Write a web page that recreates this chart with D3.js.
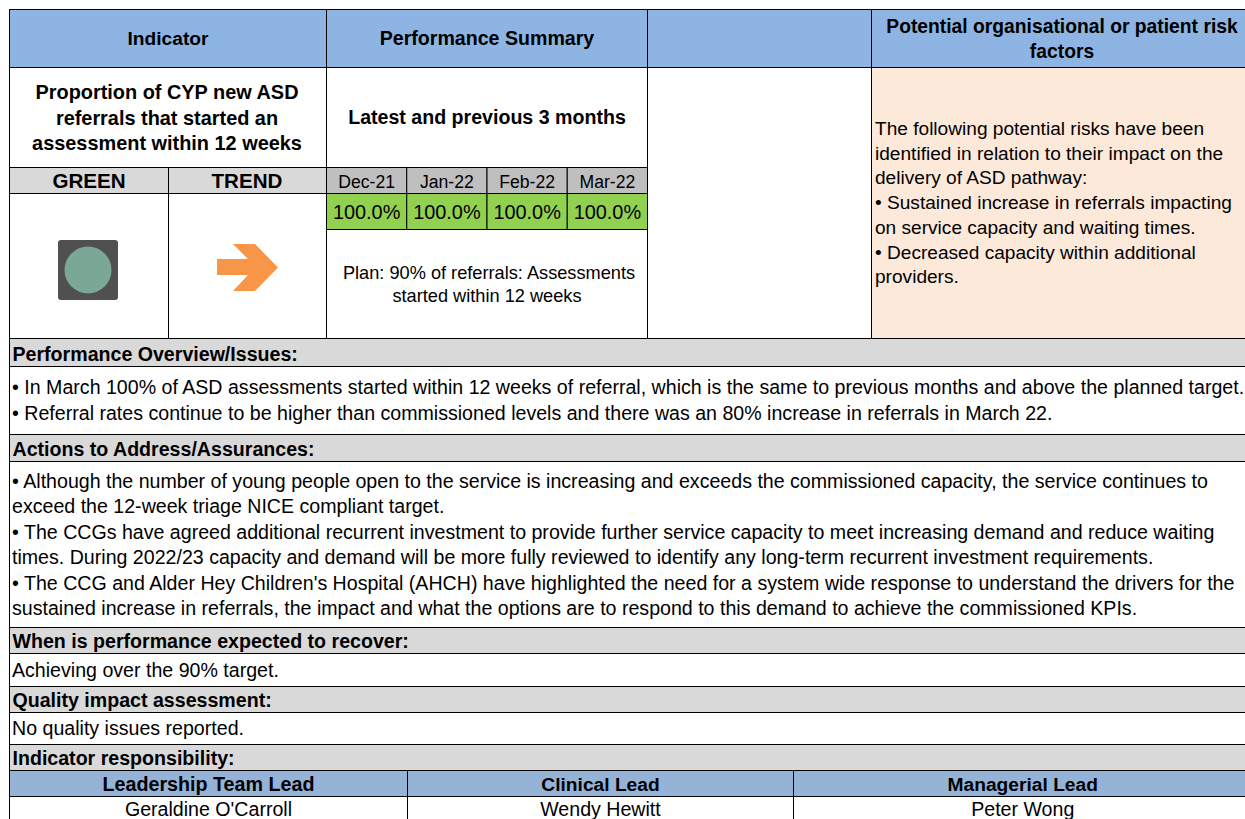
<!DOCTYPE html>
<html>
<head>
<meta charset="utf-8">
<script src="https://cdn.jsdelivr.net/npm/d3@7"></script>
<style>
html,body{margin:0;padding:0;background:#fff;overflow:hidden}
svg{display:block}
text{font-family:"Liberation Sans",Arial,sans-serif;fill:#000}
</style>
</head>
<body>
<svg id="sheet" width="1245" height="819"></svg>
<script>
var months=["Dec-21","Jan-22","Feb-22","Mar-22"];
var monthValues=[100,100,100,100];
var headers=["Indicator","Performance Summary","",""];
var riskHeader=["Potential organisational or patient risk","factors"];
var indicatorName=["Proportion of CYP new ASD","referrals that started an","assessment within 12 weeks"];
var planText=["Plan: 90% of referrals: Assessments","started within 12 weeks"];
var riskText=["The following potential risks have been","identified in relation to their impact on the","delivery of ASD pathway:","• Sustained increase in referrals impacting","on service capacity and waiting times.","• Decreased capacity within additional","providers."];
var overviewText=["• In March 100% of ASD assessments started within 12 weeks of referral, which is the same to previous months and above the planned target.","• Referral rates continue to be higher than commissioned levels and there was an 80% increase in referrals in March 22."];
var actionsText=["• Although the number of young people open to the service is increasing and exceeds the commissioned capacity, the service continues to","exceed the 12-week triage NICE compliant target.","• The CCGs have agreed additional recurrent investment to provide further service capacity to meet increasing demand and reduce waiting","times. During 2022/23 capacity and demand will be more fully reviewed to identify any long-term recurrent investment requirements.","• The CCG and Alder Hey Children's Hospital (AHCH) have highlighted the need for a system wide response to understand the drivers for the","sustained increase in referrals, the impact and what the options are to respond to this demand to achieve the commissioned KPIs."];
var leadHeaders=["Leadership Team Lead","Clinical Lead","Managerial Lead"];
var leadNames=["Geraldine O'Carroll","Wendy Hewitt","Peter Wong"];

var svg=d3.select("#sheet");
var blue="#8db4e2", grey="#d9d9d9", midGrey="#bfbfbf", green="#92d050", peach="#fde9d9", lead="#95b3d7";
var right=1252;

function cell(x0,y0,x1,y1,fill){
	svg.append("rect").attr("x",x0).attr("y",y0).attr("width",x1-x0).attr("height",y1-y0)
	.attr("fill",fill||"#fff").attr("stroke","#000").attr("stroke-width",1);
}
function label(x,y,txt,size,bold,anchor,col){
	return svg.append("text").attr("x",x).attr("y",y).attr("font-size",size)
	.attr("font-weight",bold?"bold":"normal").attr("text-anchor",anchor||"middle")
	.style("fill",col||"#000").text(txt);
}

// top band
var colX=[9.5,326.5,647.5,871.5,right];
headers.forEach(function(h,i){
	cell(colX[i],9.5,colX[i+1],67.5,blue);
	if(h) label((colX[i]+colX[i+1])/2,44.5,h,i==0?19.2:19.6,true);
});
riskHeader.forEach(function(t,i){ label(1062,33+i*25,t,19.3,true); });

// indicator block
cell(9.5,67.5,326.5,167.5);
indicatorName.forEach(function(t,i){ label(167,99+i*25.7,t,19.9,true); });
cell(326.5,67.5,647.5,167.5);
label(487,124,"Latest and previous 3 months",19.6,true);
cell(647.5,67.5,871.5,338.5);
cell(871.5,67.5,right,338.5,peach);
riskText.forEach(function(t,i){ label(875,135+i*24.7,t,19.1,false,"start"); });

// rag and trend
cell(9.5,167.5,168.5,193.5,grey);
cell(168.5,167.5,326.5,193.5,grey);
label(89,188,"GREEN",20.6,true);
label(247,188,"TREND",20.6,true);
cell(9.5,193.5,168.5,338.5);
cell(168.5,193.5,326.5,338.5);
svg.append("rect").attr("x",58).attr("y",240).attr("width",60).attr("height",60).attr("rx",3).attr("fill","#505050");
svg.append("circle").attr("cx",88).attr("cy",270).attr("r",23.5).attr("fill","#7ba797");
svg.append("path").attr("d","M217 259H248L233 244H255L278 267.5L255 291H233L248 275H217Z").attr("fill","#f79646");

// months, positioned through a band scale
var xMonth=d3.scaleBand().domain(months).range([326.5,647.5]);
months.forEach(function(m,i){
	var x0=xMonth(m), x1=x0+xMonth.bandwidth();
	cell(x0,167.5,x1,193.5,midGrey);
	label((x0+x1)/2,188,m,17.6);
	cell(x0,193.5,x1,229.5,green);
	label((x0+x1)/2,219,monthValues[i].toFixed(1)+"%",19.9);
});
cell(326.5,229.5,647.5,338.5);
planText.forEach(function(t,i){ label(489-i*2,279+i*23,t,18.2); });

// lower rows
function band(y0,y1,txt){
	cell(9.5,y0,right,y1,grey);
	label(12.5,y1-6,txt,19.6,true,"start");
}
function body(y0,y1,lines,first,step){
	cell(9.5,y0,right,y1);
	lines.forEach(function(t,i){ label(12,first+i*step,t,19.6,false,"start"); });
}
band(338.5,366.5,"Performance Overview/Issues:");
body(366.5,434.5,overviewText,394,25.5);
band(434.5,461.5,"Actions to Address/Assurances:");
body(461.5,627.5,actionsText,488,25.4);
band(627.5,653.5,"When is performance expected to recover:");
body(653.5,686.5,["Achieving over the 90% target."],677,0);
band(686.5,712.5,"Quality impact assessment:");
body(712.5,744.5,["No quality issues reported."],735,0);
band(744.5,770.5,"Indicator responsibility:");

var leadX=[9.5,407.5,793.5,right];
leadHeaders.forEach(function(h,i){
	cell(leadX[i],770.5,leadX[i+1],796.5,lead);
	label((leadX[i]+leadX[i+1])/2,791,h,i==0?19.7:19.2,true);
	cell(leadX[i],796.5,leadX[i+1],830);
	label((leadX[i]+leadX[i+1])/2,816,leadNames[i],19.6);
});
</script>
</body>
</html>
